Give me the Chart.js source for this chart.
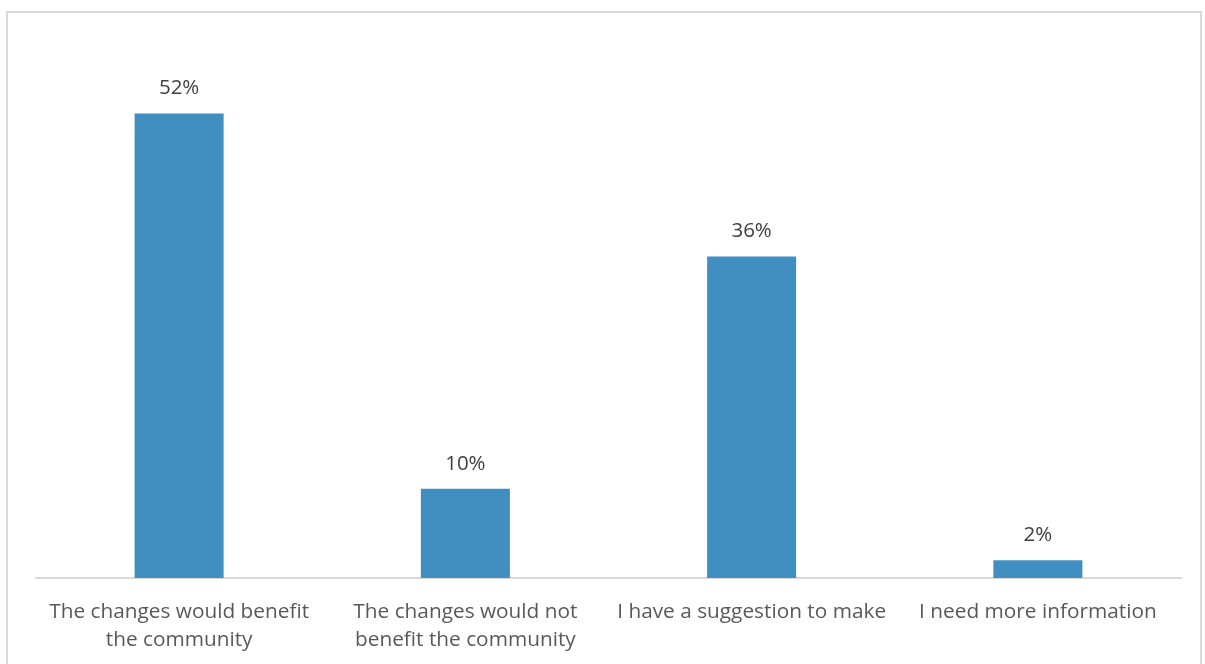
<!DOCTYPE html>
<html><head><meta charset="utf-8">
<script src="https://cdn.jsdelivr.net/npm/chart.js@4"></script>
<style>html,body{margin:0;padding:0;background:#fff;}#wrap{width:1205px;height:664px;position:relative;}</style>
</head><body><div id="wrap"><canvas id="c" width="1205" height="664"></canvas></div>
<script>
const categories = [
  ["The changes would benefit", "the community"],
  ["The changes would not", "benefit the community"],
  ["I have a suggestion to make"],
  ["I need more information"]
];
const values = [52, 10, 36, 2];
const valueLabels = ["52%", "10%", "36%", "2%"];

const FONT = "'Open Sans', sans-serif";

const borderPlugin = {
  id: 'frame',
  beforeDraw(chart) {
    const ctx = chart.ctx;
    ctx.save();
    ctx.fillStyle = '#fff';
    ctx.fillRect(0, 0, chart.width, chart.height);
    ctx.strokeStyle = '#d9d9d9';
    ctx.lineWidth = 2;
    ctx.strokeRect(7, 12, 1194, 700);
    ctx.restore();
  }
};
const labelPlugin = {
  id: 'vals',
  afterDatasetsDraw(chart) {
    const ctx = chart.ctx;
    const meta = chart.getDatasetMeta(0);
    ctx.save();
    ctx.font = "20.5px " + FONT;
    ctx.fillStyle = '#404040';
    ctx.textAlign = 'center';
    ctx.textBaseline = 'middle';
    meta.data.forEach((bar, i) => {
      ctx.fillText(valueLabels[i], bar.x, bar.y - 25);
    });
    ctx.restore();
  }
};

new Chart(document.getElementById('c'), {
  type: 'bar',
  data: {
    labels: categories,
    datasets: [{
      data: values,
      backgroundColor: '#418FC1',
      categoryPercentage: 1,
      barPercentage: 0.311
    }]
  },
  options: {
    responsive: false,
    animation: false,
    devicePixelRatio: 1,
    layout: { padding: { left: 36, right: 24, top: 42, bottom: 0 } },
    plugins: { legend: { display: false }, tooltip: { enabled: false } },
    scales: {
      y: { display: false, min: 0, max: 60 },
      x: {
        grid: { display: false, drawTicks: false },
        border: { display: true, color: '#d9d9d9', width: 2 },
        ticks: {
          color: '#595959',
          font: { family: FONT, size: 20.8, lineHeight: 1.35 },
          padding: 20,
          maxRotation: 0,
          autoSkip: false
        },
        afterFit(scale) { scale.height = 86; }
      }
    }
  },
  plugins: [borderPlugin, labelPlugin]
});
</script></body></html>
